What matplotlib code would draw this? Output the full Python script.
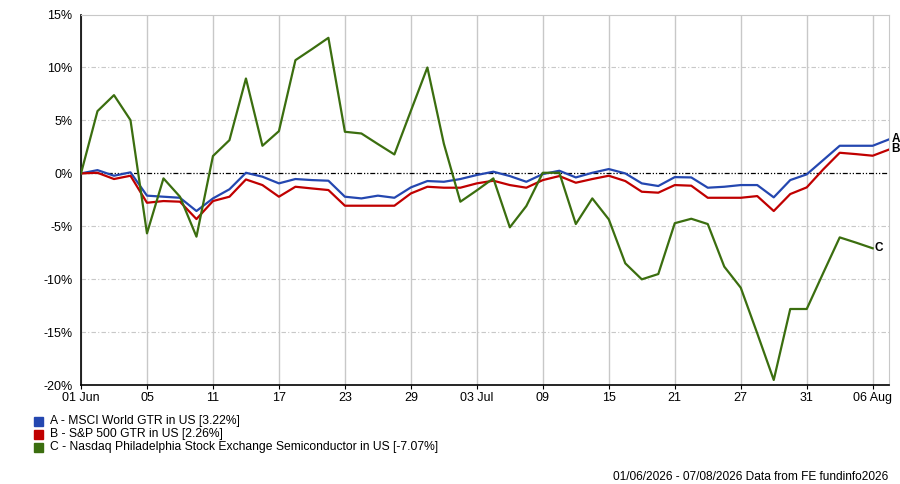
import matplotlib.pyplot as plt
from matplotlib.patches import Rectangle

plt.rcParams['font.family'] = ['Liberation Sans', 'DejaVu Sans']

# one point per weekday, 01 Jun 2026 .. 07 Aug 2026
tick_idx = [0, 4, 8, 12, 16, 20, 24, 28, 32, 36, 40, 44, 48]
tick_labels = ['01 Jun', '05', '11', '17', '23', '29', '03 Jul', '09', '15', '21', '27', '31', '06 Aug']

msci = [0, 0.31, -0.22, 0.1, -2.1, -2.2, -2.3, -3.55, -2.36, -1.5,
        0.06, -0.31, -0.94, -0.53, -0.63, -0.69, -2.2, -2.36, -2.1, -2.3,
        -1.32, -0.72, -0.79, -0.53, -0.15, 0.16, -0.25, -0.79, -0.06, 0.25,
        -0.38, 0.06, 0.41, 0, -0.94, -1.19, -0.35, -0.38, -1.35, -1.26,
        -1.1, -1.1, -2.26, -0.63, -0.09, 1.26, 2.61, 2.61, 2.61, 3.22]
sp500 = [0, 0.06, -0.53, -0.22, -2.77, -2.61, -2.67, -4.31, -2.61, -2.2,
         -0.57, -1.1, -2.2, -1.26, -1.42, -1.57, -3.05, -3.05, -3.05, -3.05,
         -1.89, -1.26, -1.35, -1.35, -0.94, -0.69, -1.1, -1.35, -0.63, -0.25,
         -0.88, -0.53, -0.22, -0.72, -1.73, -1.82, -1.1, -1.16, -2.3, -2.3,
         -2.3, -2.14, -3.55, -1.95, -1.32, 0.38, 1.95, 1.82, 1.67, 2.26]
sox = [0, 5.88, 7.39, 5.03, -5.66, -0.47, -2.2, -5.97, 1.64, 3.14,
       8.96, 2.61, 3.99, 10.69, 11.73, 12.8, 3.93, 3.77, 2.77, 1.79,
       5.91, 10.0, 2.8, -2.67, -1.6, -0.47, -5.09, -3.08, 0.06, 0.06,
       -4.78, -2.36, -4.34, -8.49, -10.0, -9.5, -4.7, -4.28, -4.78, -8.8,
       -10.79, -15.1, -19.5, -12.8, -12.8, -9.4, -6.04, -6.54, -7.07]

names = ['A - MSCI World GTR in US [3.22%]',
         'B - S&P 500 GTR in US [2.26%]',
         'C - Nasdaq Philadelphia Stock Exchange Semiconductor in US [-7.07%]']
colors = ['#2447b0', '#c00000', '#3b6e0f']

fig = plt.figure(figsize=(9, 4.84), dpi=100)
ax = fig.add_axes([0.09, 0.204, 0.898, 0.766])

grey = '#c8c8c8'
for t in tick_idx:
    ax.axvline(t, color=grey, lw=1, zorder=0)
for v in [-15, -10, -5, 5, 10]:
    ax.axhline(v, color=grey, lw=0.8, ls=(0, (4, 2, 1, 2)), zorder=0)
ax.axhline(0, color='black', lw=0.9, ls=(0, (4, 1.5, 1, 1.5, 1, 1.5)), zorder=1)

series = [msci, sp500, sox]
for vals, c in zip(series, colors):
    ax.plot(range(len(vals)), vals, color=c, lw=1.6, zorder=3)

for vals, lab in zip(series, 'ABC'):
    ax.annotate(lab, (len(vals) - 1, vals[-1]), xytext=(1.5, 0), textcoords='offset points',
                va='center', ha='left', fontsize=8.5, fontweight='bold', annotation_clip=False)

ax.set_xlim(0, 49)
ax.set_ylim(-20, 15)
ax.set_xticks(tick_idx)
ax.set_xticklabels(tick_labels)
ax.set_yticks(range(-20, 16, 5))
ax.set_yticklabels([f'{v}%' for v in range(-20, 16, 5)])
ax.tick_params(axis='x', length=3, pad=2, labelsize=9)
ax.tick_params(axis='y', length=0, pad=6, labelsize=9)

ax.spines['top'].set_color(grey)
ax.spines['right'].set_color(grey)
ax.spines['left'].set_linewidth(1.2)
ax.spines['bottom'].set_linewidth(1.2)

# legend rows
for k, (nm, c) in enumerate(zip(names, colors)):
    yc = 421 + 13 * k
    fig.patches.append(Rectangle((34 / 900, 1 - (yc + 4.5) / 484), 9 / 900, 9 / 484,
                                 transform=fig.transFigure, color=c, figure=fig))
    fig.text(50 / 900, 1 - yc / 484, nm, fontsize=8.7, va='center', ha='left')

fig.text(888 / 900, 1 - 477 / 484, '01/06/2026 - 07/08/2026 Data from FE fundinfo2026',
         fontsize=8.6, va='center', ha='right')

fig.savefig('out.png', dpi=100)
